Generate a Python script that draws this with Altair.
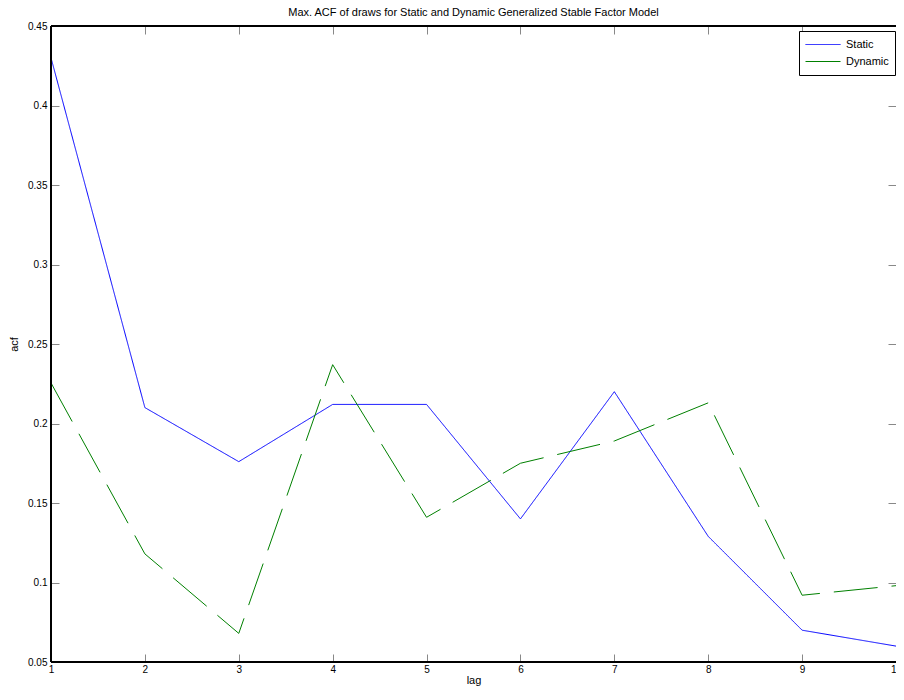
import altair as alt
import pandas as pd

lags = [1, 2, 3, 4, 5, 6, 7, 8, 9, 10]
static_acf = [0.430, 0.210, 0.176, 0.212, 0.212, 0.140, 0.220, 0.129, 0.070, 0.060]
dynamic_acf = [0.2255, 0.118, 0.068, 0.237, 0.141, 0.175, 0.189, 0.213, 0.092, 0.098]
series_names = ["Static", "Dynamic"]
y_ticks = [0.05, 0.1, 0.15, 0.2, 0.25, 0.3, 0.35, 0.4, 0.45]
title_text = "Max. ACF of draws for Static and Dynamic Generalized Stable Factor Model"

rows = []
for name, vals in zip(series_names, [static_acf, dynamic_acf]):
    for l, v in zip(lags, vals):
        rows.append({"lag": l, "acf": v, "series": name})
df = pd.DataFrame(rows)

FONT = "Liberation Sans"
W, H = 845, 636

xscale = alt.Scale(domain=[1, 10], nice=False, zero=False)
yscale = alt.Scale(domain=[0.05, 0.45], nice=False, zero=False)

base = alt.Chart(df)

line = base.mark_line(strokeWidth=1, clip=False).encode(
    x=alt.X("lag:Q", scale=xscale,
            axis=alt.Axis(values=lags, format="d", title="lag", orient="bottom",
                          offset=-8, tickSize=8, domain=False, labelPadding=2,
                          titlePadding=0, labelFlush=False, grid=False,
                          titleFontWeight="normal")),
    y=alt.Y("acf:Q", scale=yscale,
            axis=alt.Axis(values=y_ticks, format="~g", title="acf", orient="left",
                          offset=-8, tickSize=8, domain=False, labelPadding=4,
                          titlePadding=8, grid=False, titleFontWeight="normal")),
    color=alt.Color("series:N",
                    scale=alt.Scale(domain=series_names, range=["#0000ff", "#008000"]),
                    legend=alt.Legend(title=None, orient="none", legendX=W - 97, legendY=5,
                                      fillColor="white", strokeColor="black",
                                      padding=6, rowPadding=2, symbolType="stroke",
                                      symbolSize=1225, symbolStrokeWidth=1, clipHeight=15,
                                      labelFontSize=11, labelFont=FONT, labelOffset=5,
                                      labelColor="black", cornerRadius=0)),
    strokeDash=alt.StrokeDash("series:N",
                              scale=alt.Scale(domain=series_names, range=[[1, 0], [44, 14]]),
                              legend=None),
    order=alt.Order("lag:Q"),
)

# top and right inward ticks (no labels)
ticks2 = base.mark_line(opacity=0).encode(
    x=alt.X("lag:Q", scale=xscale,
            axis=alt.Axis(values=lags, orient="top", labels=False, title=None,
                          offset=-8, tickSize=8, domain=False, grid=False)),
    y=alt.Y("acf:Q", scale=yscale,
            axis=alt.Axis(values=y_ticks, orient="right", labels=False, title=None,
                          offset=-8, tickSize=8, domain=False, grid=False)),
)

# box frame: left, bottom, top edges (right edge lies beyond the window)
frame_left = alt.Chart(df).mark_rule(color="black", strokeWidth=1).encode(
    x=alt.value(0), y=alt.value(0), y2=alt.value(H))
frame_bottom = alt.Chart(df).mark_rule(color="black", strokeWidth=1).encode(
    x=alt.value(0), x2=alt.value(W + 3), y=alt.value(H))
frame_top = alt.Chart(df).mark_rule(color="black", strokeWidth=1).encode(
    x=alt.value(0), x2=alt.value(W + 3), y=alt.value(0))

chart = alt.layer(ticks2, line, frame_left, frame_bottom, frame_top).resolve_axis(
    x="independent", y="independent").properties(
    width=W, height=H,
    title=alt.TitleParams(title_text, fontSize=11, font=FONT, fontWeight="normal",
                          color="black", anchor="middle", offset=3),
    autosize=alt.AutoSizeParams(type="none"),
    padding={"left": 43, "top": 18, "right": 0, "bottom": 28},
).configure_view(stroke=None).configure_axis(
    labelFont=FONT, labelFontSize=11, labelColor="black",
    titleFont=FONT, titleFontSize=11, titleColor="black", titleFontWeight="normal",
    tickColor="black", tickWidth=1,
).configure(background="white")

chart.save("out.html", embed_options={"renderer": "svg", "actions": False})
